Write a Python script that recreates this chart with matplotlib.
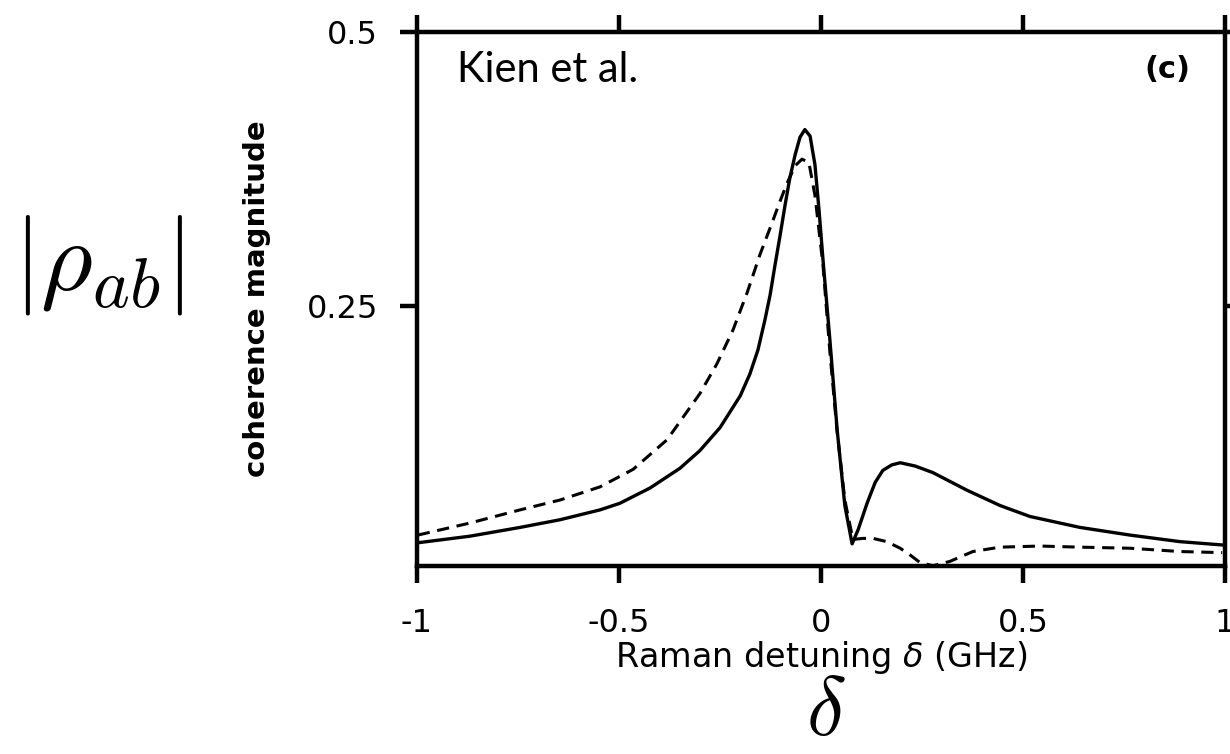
import matplotlib.pyplot as plt

# Raman detuning (GHz) and coherence magnitude
solid_x = [-0.998, -0.869, -0.745, -0.646, -0.547, -0.498, -0.423, -0.349, -0.300,
           -0.250, -0.200, -0.176, -0.156, -0.139, -0.126, -0.114, -0.101, -0.089,
           -0.077, -0.064, -0.052, -0.040, -0.027, -0.015, -0.005, 0.005, 0.022,
           0.040, 0.059, 0.077, 0.092, 0.114, 0.134, 0.153, 0.175, 0.196, 0.233,
           0.277, 0.361, 0.443, 0.517, 0.641, 0.765, 0.889, 0.993]
solid_y = [0.034, 0.040, 0.048, 0.055, 0.064, 0.070, 0.084, 0.102, 0.118,
           0.139, 0.168, 0.188, 0.210, 0.237, 0.260, 0.287, 0.315, 0.342,
           0.367, 0.388, 0.404, 0.411, 0.405, 0.379, 0.338, 0.292, 0.219,
           0.137, 0.068, 0.033, 0.046, 0.070, 0.089, 0.100, 0.105, 0.107, 0.104,
           0.098, 0.082, 0.068, 0.058, 0.048, 0.041, 0.035, 0.032]

dash_x = [-0.998, -0.869, -0.745, -0.646, -0.547, -0.465, -0.381, -0.300, -0.258,
          -0.218, -0.183, -0.151, -0.119, -0.101, -0.084, -0.064, -0.047, -0.030,
          -0.015, 0.005, 0.022, 0.040, 0.059, 0.079, 0.104, 0.129, 0.163, 0.196,
          0.220, 0.245, 0.277, 0.319, 0.376, 0.443, 0.542, 0.641, 0.765, 0.889, 0.993]
dash_y = [0.041, 0.052, 0.064, 0.073, 0.085, 0.101, 0.128, 0.170, 0.197,
          0.228, 0.262, 0.297, 0.328, 0.346, 0.362, 0.378, 0.384, 0.381,
          0.351, 0.287, 0.208, 0.135, 0.073, 0.037, 0.038, 0.038, 0.035, 0.029,
          0.023, 0.016, 0.013, 0.017, 0.026, 0.030, 0.031, 0.030, 0.029, 0.026, 0.025]

xticks = [-1, -0.5, 0, 0.5, 1]
xticklabels = ["-1", "-0.5", "0", "0.5", "1"]
yticks = [0.25, 0.5]
yticklabels = ["0.25", "0.5"]

fig = plt.figure(figsize=(12.3, 7.54), dpi=100)
ax = fig.add_axes([417/1230, 1 - 566/754, 808/1230, 534/754])

ax.plot(solid_x, solid_y, color="black", lw=2.4)
ax.plot(dash_x, dash_y, color="black", lw=2.2, dashes=(4, 2.5))

ax.set_xlim(-1, 1)
ax.set_ylim(0.0128, 0.5)
ax.set_xticks(xticks)
ax.set_xticklabels(xticklabels)
ax.set_yticks(yticks)
ax.set_yticklabels(yticklabels)

for s in ax.spines.values():
    s.set_linewidth(3.2)
ax.tick_params(direction="out", length=12, width=3.2, top=True, right=True,
               labelsize=23)
ax.tick_params(axis="x", pad=18)
ax.tick_params(axis="y", pad=16)

ax.set_xlabel(r"Raman detuning $\delta$ (GHz)", fontsize=24, labelpad=0)
ax.set_ylabel("coherence magnitude", fontsize=21, fontweight="bold", labelpad=26)

ax.text((457 - 417)/808, 1 - (82 - 32)/534, "Kien et al.", transform=ax.transAxes,
        family="Lato", fontsize=30, va="baseline", ha="left")
ax.text((1190 - 417)/808, 1 - (70 - 32)/534, "(c)", transform=ax.transAxes,
        fontsize=22, fontweight="bold", va="center", ha="right")

fig.text(98/1230, 1 - 265/754, r"$|\rho_{ab}|$", fontsize=72, math_fontfamily="cm",
         ha="center", va="center")
fig.text(826/1230, 1 - 712/754, r"$\delta$", fontsize=60, math_fontfamily="cm",
         ha="center", va="center")

plt.savefig("out.png", dpi=100)
